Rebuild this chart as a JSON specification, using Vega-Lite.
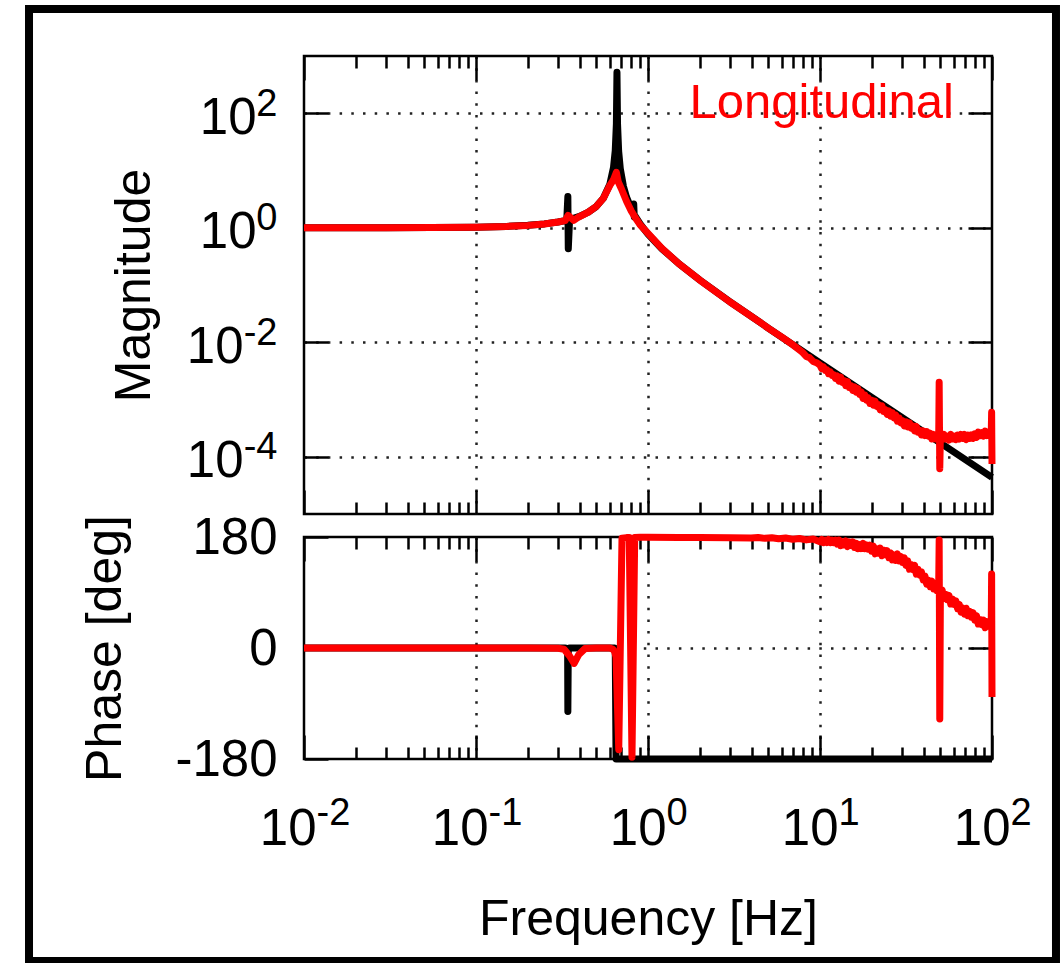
{
  "$schema": "https://vega.github.io/schema/vega-lite/v6.json",
  "background": "white",
  "padding": {"left": 23, "top": 3, "right": 0, "bottom": 0},
  "config": {
    "font": "Liberation Sans",
    "view": {"stroke": "black", "strokeWidth": 2.5},
    "axis": {
      "domain": false,
      "grid": false,
      "labelFont": "Liberation Sans",
      "titleFont": "Liberation Sans",
      "labelColor": "#000000",
      "titleColor": "#000000",
      "titleFontWeight": "normal",
      "titleFontSize": 50,
      "labelFontSize": 51,
      "labelOverlap": false,
      "labelFlush": false,
      "labelBound": false,
      "tickColor": "#000000",
      "tickWidth": 2.5,
      "gridColor": "#222222",
      "gridWidth": 2.5,
      "gridDash": [2.5, 9.2],
      "gridOpacity": 1
    }
  },
  "datasets": {
    "magModel": [
      {"f": 0.01, "m": 1.0}, {"f": 0.03, "m": 1.002}, {"f": 0.1, "m": 1.0235}, {"f": 0.15, "m": 1.0545},
      {"f": 0.2, "m": 1.101}, {"f": 0.25, "m": 1.1675}, {"f": 0.3, "m": 1.26}, {"f": 0.33, "m": 1.333},
      {"f": 0.337, "m": 1.36}, {"f": 0.342, "m": 3.5}, {"f": 0.344, "m": 0.43}, {"f": 0.35, "m": 1.391},
      {"f": 0.4, "m": 1.581}, {"f": 0.45, "m": 1.869}, {"f": 0.5, "m": 2.347}, {"f": 0.55, "m": 3.273},
      {"f": 0.6, "m": 5.762}, {"f": 0.63, "m": 11.26}, {"f": 0.645, "m": 22.2}, {"f": 0.655, "m": 66},
      {"f": 0.66, "m": 520}, {"f": 0.665, "m": 65.7}, {"f": 0.675, "m": 21.8}, {"f": 0.69, "m": 10.76},
      {"f": 0.72, "m": 5.26}, {"f": 0.75, "m": 3.43}, {"f": 0.8, "m": 2.131}, {"f": 0.82, "m": 1.84},
      {"f": 0.826, "m": 2.6}, {"f": 0.832, "m": 1.55}, {"f": 0.84, "m": 1.613}, {"f": 0.9, "m": 1.163},
      {"f": 1.0, "m": 0.772}, {"f": 1.2, "m": 0.4337}, {"f": 1.5, "m": 0.2401}, {"f": 2, "m": 0.1222},
      {"f": 3, "m": 0.05086}, {"f": 5, "m": 0.01773}, {"f": 10, "m": 0.004375}, {"f": 20, "m": 0.00109},
      {"f": 50, "m": 0.0001743}, {"f": 100, "m": 0.00004356}
    ],
    "magMeas": [
      {"f": 0.01, "m": 1.0}, {"f": 0.03, "m": 1.002}, {"f": 0.1, "m": 1.023}, {"f": 0.15, "m": 1.055},
      {"f": 0.2, "m": 1.10}, {"f": 0.25, "m": 1.167}, {"f": 0.3, "m": 1.26}, {"f": 0.33, "m": 1.33},
      {"f": 0.343, "m": 1.65}, {"f": 0.37, "m": 1.35}, {"f": 0.39, "m": 1.50}, {"f": 0.45, "m": 1.87},
      {"f": 0.5, "m": 2.35}, {"f": 0.55, "m": 3.27}, {"f": 0.6, "m": 5.5}, {"f": 0.63, "m": 6.9},
      {"f": 0.655, "m": 9.3}, {"f": 0.672, "m": 6.3}, {"f": 0.7, "m": 4.8}, {"f": 0.75, "m": 2.9},
      {"f": 0.8, "m": 1.95}, {"f": 0.85, "m": 1.45}, {"f": 0.9, "m": 1.12}, {"f": 1.0, "m": 0.80},
      {"f": 1.2, "m": 0.44}, {"f": 1.5, "m": 0.24}, {"f": 2, "m": 0.122}, {"f": 3, "m": 0.0505},
      {"f": 4.4, "m": 0.0232}, {"f": 5, "m": 0.0177}, {"f": 6, "m": 0.0123}, {"f": 7, "m": 0.0089},
      {"f": 7.94, "m": 6.607e-3}, {"f": 8.32, "m": 5.655e-3}, {"f": 8.71, "m": 5.340e-3}, {"f": 9.12, "m": 4.624e-3},
      {"f": 9.55, "m": 4.390e-3},
      {"f": 10.00, "m": 3.981e-3}, {"f": 10.23, "m": 3.467e-3}, {"f": 10.47, "m": 3.715e-3}, {"f": 10.72, "m": 3.236e-3},
      {"f": 10.96, "m": 3.311e-3}, {"f": 11.22, "m": 2.818e-3}, {"f": 11.48, "m": 3.020e-3}, {"f": 11.75, "m": 2.630e-3},
      {"f": 12.02, "m": 2.692e-3}, {"f": 12.30, "m": 2.344e-3}, {"f": 12.59, "m": 2.570e-3}, {"f": 12.88, "m": 2.089e-3},
      {"f": 13.18, "m": 2.455e-3}, {"f": 13.49, "m": 1.995e-3}, {"f": 13.80, "m": 2.138e-3}, {"f": 14.13, "m": 1.738e-3},
      {"f": 14.45, "m": 2.042e-3}, {"f": 14.79, "m": 1.622e-3}, {"f": 15.14, "m": 1.738e-3}, {"f": 15.49, "m": 1.445e-3},
      {"f": 15.85, "m": 1.660e-3}, {"f": 16.22, "m": 1.349e-3}, {"f": 16.60, "m": 1.549e-3}, {"f": 16.98, "m": 1.230e-3},
      {"f": 17.38, "m": 1.349e-3}, {"f": 17.78, "m": 1.047e-3}, {"f": 18.20, "m": 1.202e-3}, {"f": 18.62, "m": 9.772e-4},
      {"f": 19.05, "m": 1.072e-3}, {"f": 19.50, "m": 8.511e-4}, {"f": 19.95, "m": 9.772e-4}, {"f": 20.42, "m": 7.943e-4},
      {"f": 20.89, "m": 9.333e-4}, {"f": 21.38, "m": 7.586e-4}, {"f": 21.88, "m": 8.128e-4}, {"f": 22.39, "m": 6.607e-4},
      {"f": 22.91, "m": 7.762e-4}, {"f": 23.44, "m": 6.166e-4}, {"f": 23.99, "m": 6.607e-4}, {"f": 24.55, "m": 5.495e-4},
      {"f": 25.12, "m": 6.310e-4}, {"f": 25.70, "m": 5.129e-4}, {"f": 26.30, "m": 5.888e-4}, {"f": 26.92, "m": 4.786e-4},
      {"f": 27.54, "m": 5.370e-4}, {"f": 28.18, "m": 4.169e-4}, {"f": 28.84, "m": 4.786e-4}, {"f": 29.51, "m": 3.890e-4},
      {"f": 30.20, "m": 4.266e-4}, {"f": 30.90, "m": 3.467e-4}, {"f": 31.62, "m": 4.074e-4}, {"f": 32.36, "m": 3.311e-4},
      {"f": 33.11, "m": 3.890e-4}, {"f": 33.88, "m": 3.162e-4}, {"f": 34.67, "m": 3.467e-4}, {"f": 35.48, "m": 2.818e-4},
      {"f": 36.31, "m": 3.388e-4}, {"f": 37.15, "m": 2.692e-4}, {"f": 38.02, "m": 2.884e-4}, {"f": 38.90, "m": 2.399e-4},
      {"f": 39.81, "m": 2.818e-4}, {"f": 40.74, "m": 2.344e-4}, {"f": 41.69, "m": 2.754e-4}, {"f": 42.66, "m": 2.291e-4},
      {"f": 43.65, "m": 2.570e-4}, {"f": 44.67, "m": 2.042e-4}, {"f": 45.71, "m": 2.455e-4}, {"f": 46.77, "m": 2.042e-4},
      {"f": 47.86, "m": 2.291e-4}, {"f": 48.98, "m": 1.950e-4},
      {"f": 49.3, "m": 2.0e-3}, {"f": 49.7, "m": 6.2e-5},
      {"f": 50.12, "m": 2.344e-4}, {"f": 51.29, "m": 1.995e-4}, {"f": 52.48, "m": 2.455e-4}, {"f": 53.70, "m": 2.042e-4},
      {"f": 54.95, "m": 2.291e-4}, {"f": 56.23, "m": 1.950e-4}, {"f": 57.54, "m": 2.455e-4}, {"f": 58.88, "m": 2.042e-4},
      {"f": 60.26, "m": 2.291e-4}, {"f": 61.66, "m": 1.995e-4}, {"f": 63.10, "m": 2.399e-4}, {"f": 64.57, "m": 2.042e-4},
      {"f": 66.07, "m": 2.455e-4}, {"f": 67.61, "m": 2.089e-4}, {"f": 69.18, "m": 2.455e-4}, {"f": 70.79, "m": 1.995e-4},
      {"f": 72.44, "m": 2.399e-4}, {"f": 74.13, "m": 2.089e-4}, {"f": 75.86, "m": 2.399e-4}, {"f": 77.62, "m": 2.089e-4},
      {"f": 79.43, "m": 2.512e-4}, {"f": 81.28, "m": 2.188e-4}, {"f": 83.18, "m": 2.692e-4}, {"f": 85.11, "m": 2.344e-4},
      {"f": 87.10, "m": 2.630e-4}, {"f": 89.13, "m": 2.291e-4}, {"f": 91.20, "m": 2.818e-4}, {"f": 93.33, "m": 2.344e-4},
      {"f": 95.50, "m": 2.630e-4}, {"f": 97.72, "m": 2.291e-4}, {"f": 99.0, "m": 2.6e-4}, {"f": 99.5, "m": 6.0e-4},
      {"f": 100, "m": 7.5e-5}
    ],
    "phModel": [
      {"f": 0.01, "p": 0}, {"f": 0.33, "p": 0}, {"f": 0.341, "p": -2}, {"f": 0.342, "p": -103},
      {"f": 0.344, "p": -3}, {"f": 0.35, "p": 0}, {"f": 0.64, "p": 0}, {"f": 0.645, "p": -2},
      {"f": 0.652, "p": -180}, {"f": 100, "p": -180}
    ],
    "phMeas": [
      {"f": 0.01, "p": 0}, {"f": 0.2, "p": 0}, {"f": 0.3, "p": -0.5}, {"f": 0.325, "p": -2},
      {"f": 0.35, "p": -13}, {"f": 0.372, "p": -25}, {"f": 0.395, "p": -11}, {"f": 0.43, "p": -1},
      {"f": 0.5, "p": 0}, {"f": 0.6, "p": 0}, {"f": 0.625, "p": -2}, {"f": 0.64, "p": -6},
      {"f": 0.652, "p": -15}, {"f": 0.676, "p": -165}, {"f": 0.706, "p": 178}, {"f": 0.75, "p": 179},
      {"f": 0.778, "p": 179}, {"f": 0.807, "p": -177}, {"f": 0.837, "p": 179}, {"f": 0.9, "p": 179.5},
      {"f": 1.0, "p": 179.5}, {"f": 1.5, "p": 179.3}, {"f": 2, "p": 179}, {"f": 3, "p": 178.6},
      {"f": 3.98, "p": 178.2}, {"f": 4.37, "p": 179.2}, {"f": 4.79, "p": 177.8}, {"f": 5.25, "p": 178.9},
      {"f": 5.75, "p": 177.2}, {"f": 6.31, "p": 178.3}, {"f": 6.92, "p": 176.4}, {"f": 7.59, "p": 177.6},
      {"f": 8.32, "p": 175.3}, {"f": 9.12, "p": 176.8},
      {"f": 10.00, "p": 172.1}, {"f": 10.23, "p": 176.0}, {"f": 10.47, "p": 170.9}, {"f": 10.72, "p": 174.8},
      {"f": 10.96, "p": 170.9}, {"f": 11.22, "p": 176.0}, {"f": 11.48, "p": 170.9}, {"f": 11.75, "p": 174.8},
      {"f": 12.02, "p": 170.9}, {"f": 12.30, "p": 174.8}, {"f": 12.59, "p": 168.5}, {"f": 12.88, "p": 175.1},
      {"f": 13.18, "p": 165.8}, {"f": 13.49, "p": 172.4}, {"f": 13.80, "p": 167.1}, {"f": 14.13, "p": 173.7},
      {"f": 14.45, "p": 164.4}, {"f": 14.79, "p": 172.0}, {"f": 15.14, "p": 166.4}, {"f": 15.49, "p": 171.9},
      {"f": 15.85, "p": 163.3}, {"f": 16.22, "p": 169.8}, {"f": 16.60, "p": 161.2}, {"f": 16.98, "p": 167.7},
      {"f": 17.38, "p": 161.1}, {"f": 17.78, "p": 169.6}, {"f": 18.20, "p": 161.0}, {"f": 18.62, "p": 167.2},
      {"f": 19.05, "p": 160.4}, {"f": 19.50, "p": 166.6}, {"f": 19.95, "p": 156.9}, {"f": 20.42, "p": 165.2},
      {"f": 20.89, "p": 152.7}, {"f": 21.38, "p": 161.0}, {"f": 21.88, "p": 153.7}, {"f": 22.39, "p": 162.0},
      {"f": 22.91, "p": 149.5}, {"f": 23.44, "p": 158.8}, {"f": 23.99, "p": 151.2}, {"f": 24.55, "p": 157.9},
      {"f": 25.12, "p": 146.4}, {"f": 25.70, "p": 154.4}, {"f": 26.30, "p": 142.9}, {"f": 26.92, "p": 150.9},
      {"f": 27.54, "p": 142.0}, {"f": 28.18, "p": 152.6}, {"f": 28.84, "p": 141.1}, {"f": 29.51, "p": 148.4},
      {"f": 30.20, "p": 138.8}, {"f": 30.90, "p": 146.2}, {"f": 31.62, "p": 134.0}, {"f": 32.36, "p": 141.3},
      {"f": 33.11, "p": 127.8}, {"f": 33.88, "p": 135.2}, {"f": 34.67, "p": 126.9}, {"f": 35.48, "p": 134.2},
      {"f": 36.31, "p": 119.8}, {"f": 37.15, "p": 127.5}, {"f": 38.02, "p": 118.3}, {"f": 38.90, "p": 123.4},
      {"f": 39.81, "p": 110.3}, {"f": 40.74, "p": 116.7}, {"f": 41.69, "p": 103.6}, {"f": 42.66, "p": 110.0},
      {"f": 43.65, "p": 99.5}, {"f": 44.67, "p": 108.5}, {"f": 45.71, "p": 95.9}, {"f": 46.77, "p": 102.8},
      {"f": 47.86, "p": 92.8}, {"f": 48.98, "p": 99.7},
      {"f": 49.3, "p": 175}, {"f": 49.7, "p": -115},
      {"f": 50.12, "p": 87.1}, {"f": 51.29, "p": 94.0}, {"f": 52.48, "p": 80.1}, {"f": 53.70, "p": 87.0},
      {"f": 54.95, "p": 78.3}, {"f": 56.23, "p": 85.2}, {"f": 57.54, "p": 71.3}, {"f": 58.88, "p": 79.5},
      {"f": 60.26, "p": 70.8}, {"f": 61.66, "p": 76.4}, {"f": 63.10, "p": 63.8}, {"f": 64.57, "p": 70.7},
      {"f": 66.07, "p": 58.1}, {"f": 67.61, "p": 65.0}, {"f": 69.18, "p": 55.0}, {"f": 70.79, "p": 64.5},
      {"f": 72.44, "p": 52.3}, {"f": 74.13, "p": 59.6}, {"f": 75.86, "p": 50.0}, {"f": 77.62, "p": 57.3},
      {"f": 79.43, "p": 45.1}, {"f": 81.28, "p": 52.4}, {"f": 83.18, "p": 38.9}, {"f": 85.11, "p": 46.2},
      {"f": 87.10, "p": 37.9}, {"f": 89.13, "p": 45.2}, {"f": 91.20, "p": 32.9}, {"f": 93.33, "p": 42.7},
      {"f": 95.50, "p": 35.6}, {"f": 97.72, "p": 42.8}, {"f": 99.0, "p": 38}, {"f": 99.5, "p": 120},
      {"f": 100, "p": -79.5}
    ]
  },
  "bounds": "flush",
  "spacing": 23,
  "vconcat": [
    {
      "width": 688,
      "height": 458,
      "resolve": {"axis": {"x": "independent", "y": "independent"}},
      "layer": [
        {
          "data": {"values": [{"frame": "border"}]},
          "mark": {"type": "rect", "fill": null, "stroke": "#000000", "strokeWidth": 8},
          "encoding": {
            "x": {"datum": 0.0002519, "type": "quantitative", "scale": {"type": "log", "domain": [0.01, 100], "nice": false}, "axis": null},
            "x2": {"datum": 235.5},
            "y": {"datum": 6620, "type": "quantitative", "scale": {"type": "log", "domain": [0.00001, 1000], "nice": false}, "axis": null},
            "y2": {"datum": 1.556e-13}
          }
        },
        {
          "data": {"name": "magModel"},
          "mark": {"type": "line", "color": "#000000", "strokeWidth": 7, "strokeJoin": "round"},
          "encoding": {
            "x": {"field": "f", "type": "quantitative", "scale": {"type": "log", "domain": [0.01, 100], "nice": false},
                  "axis": {"orient": "bottom", "values": [0.1, 1, 10], "grid": true, "ticks": false, "labels": false, "title": null}},
            "y": {"field": "m", "type": "quantitative", "scale": {"type": "log", "domain": [0.00001, 1000], "nice": false},
                  "axis": {"orient": "left", "values": [0.0001, 0.01, 1, 100], "grid": true, "ticks": false, "labels": false, "title": null}}
          }
        },
        {
          "data": {"name": "magModel"},
          "mark": {"type": "line", "opacity": 0},
          "encoding": {
            "x": {"field": "f", "type": "quantitative", "scale": {"type": "log", "domain": [0.01, 100], "nice": false},
                  "axis": {"orient": "top", "values": [0.01, 0.1, 1, 10, 100], "tickSize": -24, "labels": false, "title": null}},
            "y": {"field": "m", "type": "quantitative", "scale": {"type": "log", "domain": [0.00001, 1000], "nice": false},
                  "axis": {"orient": "left", "values": [0.0001, 0.01, 1, 100], "tickSize": -24, "labels": false, "title": null}}
          }
        },
        {
          "data": {"name": "magModel"},
          "mark": {"type": "line", "opacity": 0},
          "encoding": {
            "x": {"field": "f", "type": "quantitative", "scale": {"type": "log", "domain": [0.01, 100], "nice": false},
                  "axis": {"orient": "top", "values": [0.02, 0.03, 0.04, 0.05, 0.06, 0.07, 0.08, 0.09, 0.2, 0.3, 0.4, 0.5, 0.6, 0.7, 0.8, 0.9, 2, 3, 4, 5, 6, 7, 8, 9, 20, 30, 40, 50, 60, 70, 80, 90], "tickSize": -12, "labels": false, "title": null}},
            "y": {"field": "m", "type": "quantitative", "scale": {"type": "log", "domain": [0.00001, 1000], "nice": false},
                  "axis": {"orient": "right", "values": [0.0001, 0.01, 1, 100], "tickSize": -24, "labels": false, "title": null}}
          }
        },
        {
          "data": {"name": "magModel"},
          "mark": {"type": "line", "opacity": 0},
          "encoding": {
            "x": {"field": "f", "type": "quantitative", "scale": {"type": "log", "domain": [0.01, 100], "nice": false},
                  "axis": {"orient": "bottom", "values": [0.01, 0.1, 1, 10, 100], "tickSize": -24, "labels": false, "title": null}},
            "y": {"field": "m", "type": "quantitative", "scale": {"type": "log", "domain": [0.00001, 1000], "nice": false},
                  "axis": {"orient": "left", "values": [0.0001, 0.01, 1, 100], "ticks": false, "labelExpr": "'10'", "labelAlign": "right", "labelBaseline": "alphabetic", "labelOffset": 20,
                           "labelPadding": {"condition": {"test": "datum.value < 1", "value": 61}, "value": 48}, "labelFontSize": 51,
                           "title": "Magnitude", "titleX": -155, "titleY": 229, "titleAngle": -90, "titleAlign": "center", "titleBaseline": "alphabetic"}}
          }
        },
        {
          "data": {"name": "magModel"},
          "mark": {"type": "line", "opacity": 0},
          "encoding": {
            "x": {"field": "f", "type": "quantitative", "scale": {"type": "log", "domain": [0.01, 100], "nice": false},
                  "axis": {"orient": "bottom", "values": [0.02, 0.03, 0.04, 0.05, 0.06, 0.07, 0.08, 0.09, 0.2, 0.3, 0.4, 0.5, 0.6, 0.7, 0.8, 0.9, 2, 3, 4, 5, 6, 7, 8, 9, 20, 30, 40, 50, 60, 70, 80, 90], "tickSize": -12, "labels": false, "title": null}},
            "y": {"field": "m", "type": "quantitative", "scale": {"type": "log", "domain": [0.00001, 1000], "nice": false},
                  "axis": {"orient": "left", "values": [0.0001, 0.01, 1, 100], "ticks": false, "labelExpr": "'' + round(log(datum.value)/LN10)", "labelAlign": "right", "labelBaseline": "alphabetic", "labelOffset": 2, "labelPadding": 27, "labelFontSize": 38, "title": null}}
          }
        },
        {
          "data": {"name": "magMeas"},
          "mark": {"type": "line", "color": "#ff0000", "strokeWidth": 7, "strokeJoin": "round"},
          "encoding": {
            "x": {"field": "f", "type": "quantitative", "scale": {"type": "log", "domain": [0.01, 100], "nice": false}, "axis": null},
            "y": {"field": "m", "type": "quantitative", "scale": {"type": "log", "domain": [0.00001, 1000], "nice": false}, "axis": null}
          }
        },
        {
          "data": {"values": [{"label": "Longitudinal"}]},
          "mark": {"type": "text", "color": "#ff0000", "fontSize": 49, "font": "Liberation Sans", "align": "right", "baseline": "alphabetic"},
          "encoding": {
            "x": {"datum": 60, "type": "quantitative", "scale": {"type": "log", "domain": [0.01, 100], "nice": false}, "axis": null},
            "y": {"datum": 83, "type": "quantitative", "scale": {"type": "log", "domain": [0.00001, 1000], "nice": false}, "axis": null},
            "text": {"field": "label"}
          }
        }
      ]
    },
    {
      "width": 688,
      "height": 222,
      "resolve": {"axis": {"x": "independent", "y": "independent"}},
      "layer": [
        {
          "data": {"name": "phModel"},
          "mark": {"type": "line", "color": "#000000", "strokeWidth": 7, "strokeJoin": "round"},
          "encoding": {
            "x": {"field": "f", "type": "quantitative", "scale": {"type": "log", "domain": [0.01, 100], "nice": false},
                  "axis": {"orient": "bottom", "values": [0.1, 1, 10], "grid": true, "ticks": false, "labels": false, "title": null}},
            "y": {"field": "p", "type": "quantitative", "scale": {"type": "linear", "domain": [-180, 180], "nice": false, "zero": false},
                  "axis": {"orient": "left", "values": [0], "grid": true, "ticks": false, "labels": false, "title": null}}
          }
        },
        {
          "data": {"name": "phModel"},
          "mark": {"type": "line", "opacity": 0},
          "encoding": {
            "x": {"field": "f", "type": "quantitative", "scale": {"type": "log", "domain": [0.01, 100], "nice": false},
                  "axis": {"orient": "top", "values": [0.01, 0.1, 1, 10, 100], "tickSize": -24, "labels": false, "title": null}},
            "y": {"field": "p", "type": "quantitative", "scale": {"type": "linear", "domain": [-180, 180], "nice": false, "zero": false},
                  "axis": {"orient": "left", "values": [-180, 0, 180], "tickSize": -24, "labels": false, "title": null}}
          }
        },
        {
          "data": {"name": "phModel"},
          "mark": {"type": "line", "opacity": 0},
          "encoding": {
            "x": {"field": "f", "type": "quantitative", "scale": {"type": "log", "domain": [0.01, 100], "nice": false},
                  "axis": {"orient": "top", "values": [0.02, 0.03, 0.04, 0.05, 0.06, 0.07, 0.08, 0.09, 0.2, 0.3, 0.4, 0.5, 0.6, 0.7, 0.8, 0.9, 2, 3, 4, 5, 6, 7, 8, 9, 20, 30, 40, 50, 60, 70, 80, 90], "tickSize": -12, "labels": false, "title": null}},
            "y": {"field": "p", "type": "quantitative", "scale": {"type": "linear", "domain": [-180, 180], "nice": false, "zero": false},
                  "axis": {"orient": "right", "values": [-180, 0, 180], "tickSize": -24, "labels": false, "title": null}}
          }
        },
        {
          "data": {"name": "phModel"},
          "mark": {"type": "line", "opacity": 0},
          "encoding": {
            "x": {"field": "f", "type": "quantitative", "scale": {"type": "log", "domain": [0.01, 100], "nice": false},
                  "axis": {"orient": "bottom", "values": [0.01, 0.1, 1, 10, 100], "tickSize": -24, "labels": false, "title": null}},
            "y": {"field": "p", "type": "quantitative", "scale": {"type": "linear", "domain": [-180, 180], "nice": false, "zero": false},
                  "axis": {"orient": "left", "values": [-180, 0, 180], "ticks": false, "labelExpr": "'' + datum.value", "labelAlign": "right", "labelBaseline": "alphabetic", "labelOffset": 16, "labelPadding": 27, "labelFontSize": 51,
                           "title": "Phase [deg]", "titleX": -184, "titleY": 111, "titleAngle": -90, "titleAlign": "center", "titleBaseline": "alphabetic"}}
          }
        },
        {
          "data": {"name": "phModel"},
          "mark": {"type": "line", "opacity": 0},
          "encoding": {
            "x": {"field": "f", "type": "quantitative", "scale": {"type": "log", "domain": [0.01, 100], "nice": false},
                  "axis": {"orient": "bottom", "values": [0.02, 0.03, 0.04, 0.05, 0.06, 0.07, 0.08, 0.09, 0.2, 0.3, 0.4, 0.5, 0.6, 0.7, 0.8, 0.9, 2, 3, 4, 5, 6, 7, 8, 9, 20, 30, 40, 50, 60, 70, 80, 90], "tickSize": -12, "labels": false, "title": null}},
            "y": {"field": "p", "type": "quantitative", "scale": {"type": "linear", "domain": [-180, 180], "nice": false, "zero": false}, "axis": null}
          }
        },
        {
          "data": {"name": "phModel"},
          "mark": {"type": "line", "opacity": 0},
          "encoding": {
            "x": {"field": "f", "type": "quantitative", "scale": {"type": "log", "domain": [0.01, 100], "nice": false},
                  "axis": {"orient": "bottom", "values": [0.01, 0.1, 1, 10, 100], "ticks": false, "labelExpr": "'10'", "labelAlign": "right", "labelBaseline": "alphabetic", "labelPadding": 85,
                           "labelOffset": {"condition": {"test": "datum.value < 1", "value": 12}, "value": 18}, "labelFontSize": 51,
                           "title": "Frequency [Hz]", "titleX": 344, "titleY": 175, "titleAlign": "center", "titleBaseline": "alphabetic", "titleAngle": 0}},
            "y": {"field": "p", "type": "quantitative", "scale": {"type": "linear", "domain": [-180, 180], "nice": false, "zero": false}, "axis": null}
          }
        },
        {
          "data": {"name": "phModel"},
          "mark": {"type": "line", "opacity": 0},
          "encoding": {
            "x": {"field": "f", "type": "quantitative", "scale": {"type": "log", "domain": [0.01, 100], "nice": false},
                  "axis": {"orient": "bottom", "values": [0.01, 0.1, 1, 10, 100], "ticks": false, "labelExpr": "'' + round(log(datum.value)/LN10)", "labelAlign": "left", "labelBaseline": "alphabetic", "labelPadding": 65,
                           "labelOffset": {"condition": {"test": "datum.value < 1", "value": 12}, "value": 18}, "labelFontSize": 38, "title": null}},
            "y": {"field": "p", "type": "quantitative", "scale": {"type": "linear", "domain": [-180, 180], "nice": false, "zero": false}, "axis": null}
          }
        },
        {
          "data": {"name": "phMeas"},
          "mark": {"type": "line", "color": "#ff0000", "strokeWidth": 7, "strokeJoin": "round"},
          "encoding": {
            "x": {"field": "f", "type": "quantitative", "scale": {"type": "log", "domain": [0.01, 100], "nice": false}, "axis": null},
            "y": {"field": "p", "type": "quantitative", "scale": {"type": "linear", "domain": [-180, 180], "nice": false, "zero": false}, "axis": null}
          }
        }
      ]
    }
  ]
}
